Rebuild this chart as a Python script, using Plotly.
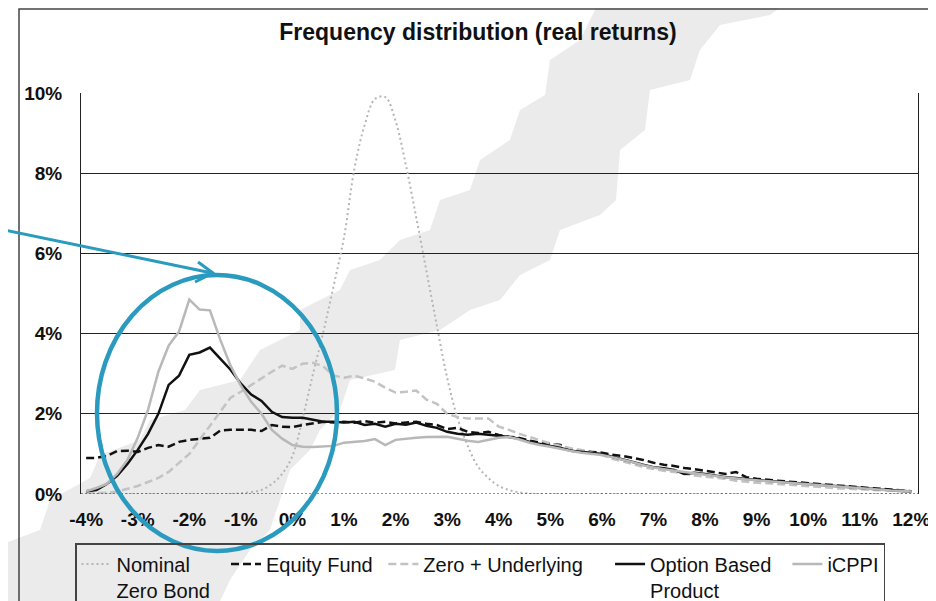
import plotly.graph_objects as go

# return buckets (%), every 0.2 percentage point from -4% to 12%
returns = [round(-4 + 0.2 * i, 1) for i in range(81)]

nominal_zero_bond = [
    0, 0, 0, 0, 0, 0, 0, 0, 0, 0,
    0, 0, 0, 0, 0, 0.02, 0.05, 0.1, 0.25, 0.5,
    0.95, 1.9, 3.0, 4.05, 5.2, 6.4, 8.1, 9.2, 9.85, 9.9,
    9.3, 8.2, 6.9, 5.55, 4.2, 2.9, 1.9, 1.2, 0.68, 0.4,
    0.2, 0.1, 0.04, 0.01, 0, 0, 0, 0, 0, 0,
    0, 0, 0, 0, 0, 0, 0, 0, 0, 0,
    0, 0, 0, 0, 0, 0, 0, 0, 0, 0,
    0, 0, 0, 0, 0, 0, 0, 0, 0, 0,
    0,
]
equity_fund = [
    0.9, 0.9, 0.95, 1.07, 1.08, 1.05, 1.15, 1.22, 1.18, 1.3,
    1.35, 1.37, 1.4, 1.58, 1.6, 1.6, 1.6, 1.57, 1.72, 1.68,
    1.67, 1.72, 1.76, 1.8, 1.78, 1.8, 1.78, 1.82, 1.78, 1.8,
    1.76, 1.78, 1.8, 1.75, 1.72, 1.62, 1.65, 1.55, 1.52, 1.55,
    1.47, 1.43, 1.4, 1.33, 1.28, 1.25, 1.22, 1.1, 1.07, 1.05,
    1.03, 0.98, 0.95, 0.9, 0.85, 0.78, 0.73, 0.7, 0.65, 0.62,
    0.58, 0.53, 0.5, 0.55, 0.42, 0.38, 0.35, 0.33, 0.31, 0.29,
    0.27, 0.25, 0.22, 0.2, 0.18, 0.17, 0.15, 0.13, 0.11, 0.09,
    0.07,
]
zero_underlying = [
    0.02, 0.02, 0.03, 0.06, 0.13, 0.2, 0.3, 0.4, 0.55, 0.78,
    1.0, 1.35, 1.7, 2.05, 2.4, 2.55, 2.72, 2.88, 3.05, 3.2,
    3.12, 3.25, 3.27, 3.18, 2.95, 2.9, 2.95, 2.88, 2.8, 2.65,
    2.53, 2.55, 2.58, 2.35, 2.25, 2.0, 1.92, 1.88, 1.88, 1.88,
    1.68, 1.6, 1.5, 1.42, 1.33, 1.26, 1.2, 1.14, 1.1, 1.04,
    0.97, 0.88, 0.82, 0.75, 0.67, 0.62, 0.58, 0.55, 0.5, 0.46,
    0.43, 0.4, 0.38, 0.33, 0.3, 0.28, 0.27, 0.25, 0.23, 0.22,
    0.2, 0.18, 0.16, 0.14, 0.13, 0.12, 0.1, 0.09, 0.08, 0.06,
    0.05,
]
option_based = [
    0.07, 0.1, 0.25, 0.45, 0.75, 1.1, 1.5, 2.0, 2.72, 2.95,
    3.47, 3.53, 3.65, 3.38, 3.1, 2.75, 2.48, 2.32, 2.05, 1.92,
    1.9, 1.9, 1.85, 1.8, 1.8, 1.78, 1.8, 1.72, 1.75, 1.68,
    1.75, 1.73, 1.78, 1.7, 1.65, 1.55, 1.5, 1.48, 1.5, 1.48,
    1.45, 1.42, 1.38, 1.3, 1.25, 1.2, 1.15, 1.08, 1.05, 1.02,
    1.0, 0.93, 0.87, 0.8, 0.73, 0.67, 0.64, 0.6, 0.5, 0.53,
    0.5, 0.46, 0.42, 0.4, 0.37, 0.35, 0.33, 0.31, 0.29, 0.27,
    0.25, 0.23, 0.21, 0.18, 0.16, 0.14, 0.12, 0.11, 0.1, 0.08,
    0.06,
]
icppi = [
    0.07, 0.15, 0.25, 0.5, 0.85, 1.4, 2.1, 3.05, 3.7, 4.05,
    4.85, 4.6, 4.58, 3.85, 3.2, 2.7, 2.3, 2.0, 1.6, 1.38,
    1.22, 1.18, 1.17, 1.18, 1.2, 1.28, 1.3, 1.32, 1.37, 1.22,
    1.35, 1.38, 1.4, 1.42, 1.43, 1.43, 1.38, 1.33, 1.3, 1.35,
    1.4, 1.42, 1.36, 1.28, 1.22, 1.18, 1.12, 1.07, 1.03, 1.0,
    0.97, 0.92, 0.86, 0.79, 0.72, 0.66, 0.62, 0.58, 0.55, 0.52,
    0.49, 0.45, 0.41, 0.38, 0.36, 0.34, 0.32, 0.3, 0.28, 0.26,
    0.24, 0.22, 0.2, 0.18, 0.16, 0.14, 0.12, 0.11, 0.09, 0.08,
    0.06,
]

x_ticks = list(range(-4, 13))
x_labels = [f"{v}%" for v in x_ticks]
y_ticks = [0, 2, 4, 6, 8, 10]
y_labels = [f"{v}%" for v in y_ticks]

FONT = "Liberation Sans, Arial, sans-serif"
TEAL = "#2a9bbf"
NB = "\u00a0"

# the page puts the figure 8px in from the top-left corner
OFF = 8
W, H = 936 - OFF, 601 - OFF
# plot area in page pixels
L, R, T, B = 81, 918, 93, 494


def to_paper(px, py):
    return (px - L) / (R - L), (B - py) / (B - T)


def path_from(points, close=True):
    pts = [to_paper(px, py) for px, py in points]
    d = "M " + " L ".join(f"{x:.4f},{y:.4f}" for x, y in pts)
    return d + (" Z" if close else "")


fig = go.Figure()

series = [
    ("Nominal<br>Zero Bond" + NB * 2, nominal_zero_bond, "#b5b5b5", "2px,3px", 2, "spline"),
    ("Equity Fund" + NB, equity_fund, "#111111", "8px,4px", 2.5, "linear"),
    ("Zero + Underlying" + NB * 4, zero_underlying, "#c3c3c3", "8px,4px", 2.5, "linear"),
    ("Option Based" + NB * 2 + "<br>Product", option_based, "#111111", "solid", 2.5, "linear"),
    ("iCPPI", icppi, "#b8b8b8", "solid", 2.5, "linear"),
]
for name, vals, color, dash, width, shape in series:
    fig.add_trace(
        go.Scatter(
            x=returns,
            y=vals,
            name=name,
            mode="lines",
            line={"color": color, "dash": dash, "width": width, "shape": shape},
        )
    )

# grey background watermark band
band = [
    (0, 601), (0, 545), (40, 530), (50, 500), (90, 478), (100, 455),
    (140, 440), (150, 420), (185, 410), (200, 390), (240, 380), (260, 350),
    (300, 330), (300, 310), (340, 290), (350, 270), (380, 260), (400, 240),
    (430, 230), (440, 200), (470, 190), (480, 160), (510, 140), (520, 110),
    (545, 95), (550, 60), (580, 40), (600, 0),
    (790, 0), (770, 15), (720, 25), (700, 50), (690, 80), (650, 90),
    (645, 130), (620, 150), (616, 200), (600, 215), (560, 230), (550, 260),
    (520, 275), (500, 300), (470, 310), (440, 330), (400, 340), (395, 370),
    (350, 380), (340, 410), (320, 430), (310, 450), (290, 470), (280, 500),
    (270, 530), (250, 550), (230, 580), (220, 601),
]
shapes = [
    dict(type="path", xref="paper", yref="paper", path=path_from(band),
         fillcolor="#ebebeb", line={"width": 0}, layer="below"),
    # outer frame
    dict(type="rect", xref="paper", yref="paper",
         x0=to_paper(19, 9)[0], y0=to_paper(19, 9)[1],
         x1=to_paper(945, 610)[0], y1=to_paper(945, 610)[1],
         line={"color": "#444444", "width": 1.5}, layer="above"),
    # dotted baseline
    dict(type="line", xref="paper", yref="y", x0=0, x1=1, y0=0, y1=0,
         line={"color": "#222222", "width": 1.2, "dash": "2px,2px"}, layer="above"),
    # teal ellipse and arrow
    dict(type="circle", xref="paper", yref="paper",
         x0=to_paper(97, 275)[0], y0=to_paper(97, 275)[1],
         x1=to_paper(337, 551)[0], y1=to_paper(337, 551)[1],
         line={"color": TEAL, "width": 4.5}, layer="above"),
    dict(type="path", xref="paper", yref="paper",
         path=path_from([(0, 229), (212, 273)], close=False),
         line={"color": TEAL, "width": 3}, layer="above"),
    dict(type="path", xref="paper", yref="paper",
         path=path_from([(198, 262), (213, 273), (195, 282)], close=False),
         line={"color": TEAL, "width": 3}, layer="above"),
]

fig.update_layout(
    width=W,
    height=H,
    margin={"l": L - OFF, "r": W - (R - OFF), "t": T - OFF, "b": H - (B - OFF),
            "autoexpand": False},
    paper_bgcolor="white",
    plot_bgcolor="rgba(0,0,0,0)",
    font={"family": FONT, "color": "#111111"},
    title={
        "text": "<b>Frequency distribution (real returns)</b>",
        "x": (478 - OFF) / W,
        "xanchor": "center",
        "y": 1 - 24 / H,
        "yanchor": "middle",
        "font": {"size": 23, "family": FONT, "color": "#111111"},
    },
    xaxis={
        "range": [-4.1, 12.13],
        "tickvals": x_ticks,
        "ticktext": x_labels,
        "showgrid": False,
        "zeroline": False,
        "showline": False,
        "ticks": "",
        "ticklabelstandoff": 12,
        "tickfont": {"size": 19, "weight": "bold", "family": FONT},
    },
    yaxis={
        "range": [0, 10],
        "tickvals": y_ticks,
        "ticktext": y_labels,
        "showgrid": True,
        "gridcolor": "#222222",
        "gridwidth": 1,
        "zeroline": False,
        "showline": True,
        "linecolor": "#222222",
        "mirror": True,
        "ticks": "",
        "ticklabelstandoff": 14,
        "tickfont": {"size": 19, "weight": "bold", "family": FONT},
    },
    legend={
        "orientation": "h",
        "x": to_paper(480, 0)[0],
        "xanchor": "center",
        "y": to_paper(0, 543)[1],
        "yanchor": "top",
        "valign": "top",
        "bgcolor": "rgba(0,0,0,0)",
        "bordercolor": "#444444",
        "borderwidth": 1.5,
        "font": {"size": 20, "family": FONT},
    },
    shapes=shapes,
    showlegend=True,
)

fig.write_html("out.html")
